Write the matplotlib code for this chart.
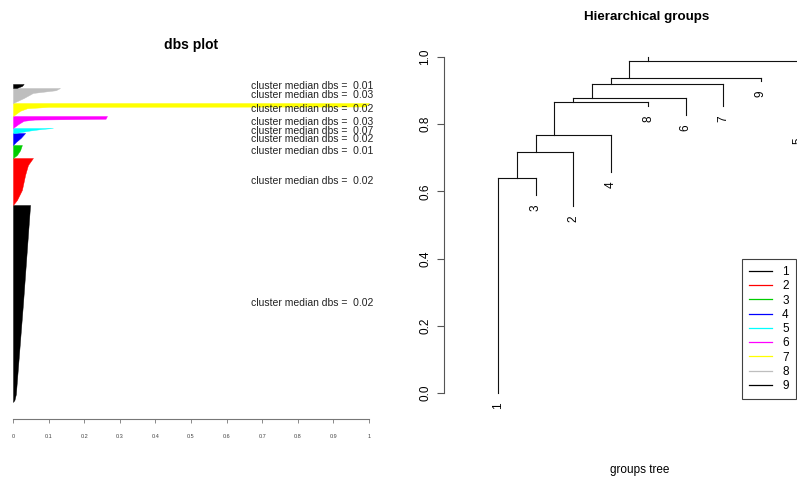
import matplotlib
matplotlib.use("Agg")
import matplotlib.pyplot as plt
from matplotlib.lines import Line2D
import numpy as np

plt.rcParams['font.family'] = ['Liberation Sans', 'DejaVu Sans']

# ---------------- data: dbs plot ----------------
cluster_ids = [1, 2, 3, 4, 5, 6, 7, 8, 9]
cluster_colors = ["#000000", "#FF0000", "#00CD00", "#0000FF", "#00FFFF",
                  "#FF00FF", "#FFFF00", "#BEBEBE", "#000000"]
cluster_sizes = [197, 47, 13, 12, 5, 12, 13, 15, 4]
cluster_medians = ["0.02", "0.02", "0.01", "0.02", "0.07", "0.03", "0.02", "0.03", "0.01"]
# profile of sorted dbs values inside each cluster (relative position, value)
profile_pos = [
    [0.0, 0.01, 0.04, 0.5, 1.0],
    [0.0, 0.106, 0.32, 0.64, 0.85, 1.0],
    [0.0, 0.23, 0.6, 1.0],
    [0.0, 0.25, 0.6, 1.0],
    [0.0, 0.5, 0.8, 1.0],
    [0.0, 0.33, 0.6, 0.7, 0.77, 1.0],
    [0.0, 0.4, 0.6, 0.7, 0.73, 1.0],
    [0.0, 0.33, 0.67, 0.85, 1.0],
    [0.0, 0.5, 1.0],
]
profile_val = [
    [0.0, 0.004, 0.008, 0.028, 0.048],
    [0.0, 0.011, 0.025, 0.034, 0.042, 0.056],
    [0.0, 0.011, 0.020, 0.025],
    [0.0, 0.008, 0.022, 0.034],
    [0.006, 0.048, 0.080, 0.112],
    [0.0, 0.015, 0.030, 0.060, 0.260, 0.264],
    [0.0, 0.020, 0.040, 0.100, 0.990, 1.0],
    [0.0, 0.030, 0.056, 0.120, 0.132],
    [0.010, 0.025, 0.030],
]
x_ticks = [0, 0.1, 0.2, 0.3, 0.4, 0.5, 0.6, 0.7, 0.8, 0.9, 1]
x_tick_labels = ["0", "0.1", "0.2", "0.3", "0.4", "0.5", "0.6", "0.7", "0.8", "0.9", "1"]

# ---------------- data: dendrogram ----------------
leaf_order = [1, 3, 2, 4, 8, 6, 7, 9, 5]
leaf_heights = {1: 0.0, 3: 0.589, 2: 0.556, 4: 0.658, 8: 0.855,
                6: 0.827, 7: 0.855, 9: 0.929, 5: 0.79}
# merges: (left child, right child, height); negative = leaf, positive = merge number
merges = [(-1, -3, 0.639), (1, -2, 0.716), (2, -4, 0.768), (3, -8, 0.867),
          (4, -6, 0.877), (5, -7, 0.920), (6, -9, 0.938), (7, -5, 0.988)]
root_top = 1.0
y_ticks = [0.0, 0.2, 0.4, 0.6, 0.8, 1.0]
y_tick_labels = ["0.0", "0.2", "0.4", "0.6", "0.8", "1.0"]

W, H = 797, 479
fig = plt.figure(figsize=(W / 100, H / 100), dpi=100)


def px_axes(l, t, r, b):
    return fig.add_axes([l / W, 1 - b / H, (r - l) / W, (b - t) / H])


# ---------------- left panel ----------------
axl = px_axes(13, 84, 369, 402)
N = sum(cluster_sizes)
base = 0
mids = []
for size, pos, val, col in zip(cluster_sizes, profile_pos, profile_val, cluster_colors):
    y = base + np.array(pos) * size
    axl.fill_betweenx(y, 0, val, color=col, lw=0.3, edgecolor=col)
    mids.append(base + size / 2)
    base += size
for m, med in zip(mids, cluster_medians):
    axl.text(0.668, m, "cluster median dbs =  " + med, ha="left", va="center",
             fontsize=7.5, color="#222222")
axl.set_xlim(0, 1)
axl.set_ylim(0, N)
for s in ["top", "right", "left"]:
    axl.spines[s].set_visible(False)
axl.spines["bottom"].set_position(("outward", 12))
axl.spines["bottom"].set_bounds(0, 1)
axl.spines["bottom"].set_color("#777777")
axl.spines["bottom"].set_linewidth(0.8)
axl.set_yticks([])
axl.set_xticks(x_ticks)
axl.set_xticklabels(x_tick_labels, fontsize=4, color="#444444")
axl.tick_params(axis="x", length=3, width=0.6, color="#777777", pad=8)
fig.text(191 / W, 1 - 45 / H, "dbs plot", ha="center", va="center",
         fontsize=10, fontweight="bold")

# ---------------- right panel ----------------
axr = px_axes(444, 43.6, 843, 406.4)
leaf_x = {lab: i + 1 for i, lab in enumerate(leaf_order)}
node_x, node_h, node_leaves = {}, {}, {}


def child_info(c):
    if c < 0:
        return leaf_x[-c], leaf_heights[-c], [leaf_x[-c]]
    return node_x[c], node_h[c], node_leaves[c]


lc = "#111111"
for k, (a, b, h) in enumerate(merges, start=1):
    xa, ha_, la = child_info(a)
    xb, hb, lb = child_info(b)
    axr.plot([xa, xa], [ha_, h], color=lc, lw=0.8)
    axr.plot([xb, xb], [hb, h], color=lc, lw=0.8)
    axr.plot([xa, xb], [h, h], color=lc, lw=0.8)
    leaves = la + lb
    node_leaves[k] = leaves
    node_x[k] = (min(leaves) + max(leaves)) / 2
    node_h[k] = h
last = len(merges)
axr.plot([node_x[last], node_x[last]], [node_h[last], root_top], color=lc, lw=0.8)

for lab in leaf_order:
    axr.annotate(str(lab), (leaf_x[lab], leaf_heights[lab]), xytext=(0, -13),
                 textcoords="offset pixels", rotation=90, ha="center", va="center",
                 fontsize=8.5, annotation_clip=False)

axr.set_xlim(1 - 54 / 37.5, 1 + (843 - 498) / 37.5)
axr.set_ylim(-0.04, 1.04)
for s in ["top", "right", "bottom"]:
    axr.spines[s].set_visible(False)
axr.spines["left"].set_bounds(0, 1)
axr.spines["left"].set_color("#555555")
axr.spines["left"].set_linewidth(0.8)
axr.set_xticks([])
axr.set_yticks(y_ticks)
axr.set_yticklabels(y_tick_labels, fontsize=8.5, rotation=90, va="center")
axr.tick_params(axis="y", length=5, width=0.8, color="#555555", pad=4)

handles = [Line2D([0], [0], color=c, lw=0.9) for c in cluster_colors]
leg = axr.legend(handles, [str(i) for i in cluster_ids], loc="upper left",
                 bbox_to_anchor=(742 / W, 1 - 259 / H), bbox_transform=fig.transFigure,
                 fontsize=8.5, frameon=True, fancybox=False, borderaxespad=0,
                 handlelength=1.9, handletextpad=0.9, labelspacing=0.19,
                 borderpad=0.6)
leg.get_frame().set_edgecolor("#111111")
leg.get_frame().set_linewidth(0.8)

fig.text(647 / W, 1 - 17 / H, "Hierarchical groups", ha="center", va="center",
         fontsize=9.6, fontweight="bold")
fig.text(640 / W, 1 - 470 / H, "groups tree", ha="center", va="center", fontsize=8.5)

fig.savefig("out.png", dpi=100)
